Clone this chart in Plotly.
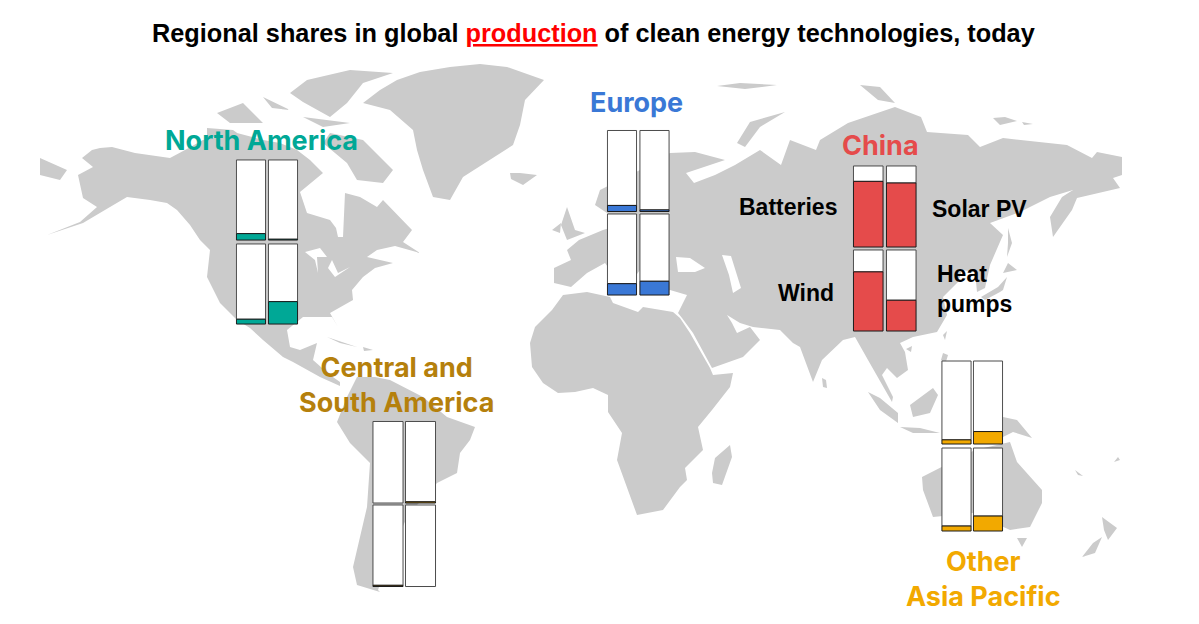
import plotly.graph_objects as go

TITLE = '<b>Regional shares in global <span style="color:#FF0000"><u>production</u></span> of clean energy technologies, today</b>'
TECHS = ["Batteries", "Solar PV", "Wind", "Heat pumps"]

north_america = [8, 1, 6, 28]
europe = [7.5, 2, 14, 17]
china = [81, 79, 73, 38]
central_south_america = [0, 1.5, 1.5, 0]
other_asia_pacific = [5, 15, 6, 18]

REGIONS = [
    ("North America", north_america, "#00A896", [235.5, 267.5], [160, 244], 31, 80),
    ("Europe", europe, "#3A78D6", [606.5, 639], [130.5, 214], 31, 81),
    ("China", china, "#E54B4B", [852.5, 885.5], [166, 250], 31.5, 81),
    ("Central and South America", central_south_america, "#B5800C", [372, 404.5], [421.5, 505], 32, 81.5),
    ("Other Asia Pacific", other_asia_pacific, "#F2A900", [941, 972.5], [361, 448], 31, 83),
]

LABELS = [
    ("North America", 261, 141, "#00A896", 27),
    ("Europe", 636, 103, "#3A78D6", 27),
    ("China", 880, 145, "#E54B4B", 27),
    ("Central and<br>South America", 396, 385, "#B5800C", 27),
    ("Other<br>Asia Pacific", 983, 579, "#F2A900", 27),
]
TECH_LABELS = [
    ("Batteries", 788, 207, "center"),
    ("Solar PV", 979, 209, "center"),
    ("Wind", 806, 293, "center"),
    ("Heat<br>pumps", 935, 289, "left"),
]

# land outlines
LAND = [
    # North and Central America
    [(82,158),(92,150),(100,148),(112,147),(135,153),(150,155),(170,158),(185,150),(203,140),(220,137),(237,133),(263,140),(280,143),
     (297,150),(310,160),(323,173),(300,192),(307,213),(330,220),(336,228),(338,237),(343,237),(344,215),(345,193),(360,197),(377,207),
     (383,200),(395,212),(412,230),(403,242),(420,253),(395,246),(377,250),(367,257),(393,263),(375,268),(363,277),(352,290),(353,300),
     (330,313),(338,327),(332,317),(303,317),(287,330),(290,347),(300,350),(317,343),(313,360),(330,375),(340,382),(340,386),(320,377),
     (293,362),(283,357),(263,340),(250,328),(237,320),(220,303),(207,277),(210,250),(200,240),(190,225),(177,210),(167,203),(150,200),
     (127,197),(110,207),(83,223),(47,235),(80,222),(97,207),(83,198),(78,175),(93,167)],
    # South America
    [(357,377),(375,377),(390,380),(410,390),(423,397),(447,417),(475,427),(470,440),(460,453),(457,473),(437,483),(408,515),(390,555),
     (378,590),(380,592),(357,585),(353,567),(360,537),(367,507),(370,463),(350,443),(337,422),(347,397)],
    # Greenland
    [(363,103),(380,90),(397,80),(420,72),(450,67),(480,64),(507,67),(544,80),(525,100),(520,125),(513,145),(490,160),(463,177),(450,200),
     (433,197),(423,170),(417,150),(413,130),(390,110)],
    # Africa
    [(563,295),(552,310),(535,327),(530,343),(532,367),(543,383),(558,393),(575,392),(593,388),(608,395),(608,412),(622,433),(617,460),
     (627,487),(637,515),(663,510),(680,487),(687,480),(685,468),(703,450),(698,427),(712,410),(730,387),(733,373),(713,375),(710,368),
     (690,333),(680,318),(673,312),(643,307),(638,312),(613,303),(610,297),(587,292)],
    [(730,445),(732,457),(722,485),(713,483),(712,473),(715,458)],
    # Eurasia
    [(682,318),(693,333),(712,368),(743,357),(760,340),(750,327),(737,333),(732,323),(727,315),(740,323),(753,327),(780,330),
     (793,343),(800,347),(813,382),(822,360),(843,340),(855,337),(868,360),(878,377),(892,402),(893,397),(882,375),(887,368),
     (897,378),(908,370),(905,352),(900,343),(913,337),(937,332),(947,315),(943,297),(958,282),(962,270),(975,272),(977,292),
     (985,288),(990,265),(1003,235),(990,223),(1020,212),(1050,197),(1073,190),(1062,197),(1050,217),(1053,237),(1072,210),
     (1077,198),(1120,188),(1113,178),(1122,175),(1122,157),(1097,152),(1092,158),(1067,145),(1003,138),(980,147),(968,135),
     (927,132),(921,117),(895,107),(848,123),(820,140),(816,150),(790,140),(781,165),(760,150),(735,165),(715,175),(694,183),
     (686,173),(725,160),(695,152),(670,153),(640,170),(600,190),(595,205),(610,215),(620,225),(603,230),(579,240),(567,250),
     (571,260),(554,268),(554,283),(571,287),(587,273),(605,263),(625,290),(640,270),(660,295),(670,290),(687,295),(683,303),(678,313)],
    # Australia, Tasmania, New Zealand, New Guinea
    [(922,477),(940,468),(975,450),(1010,442),(1017,462),(1042,490),(1042,503),(1030,527),(1010,530),(973,513),(933,517),(923,490)],
    [(1017,538),(1027,538),(1022,547)],
    [(1102,517),(1117,528),(1108,540),(1104,530)],
    [(1102,537),(1095,553),(1082,557),(1093,543)],
    [(1003,417),(1017,420),(1032,438),(1013,432),(1003,437),(985,425)],
    # South East Asia islands
    [(868,392),(880,398),(898,413),(898,423),(880,410)],
    [(900,427),(920,428),(940,433),(913,433)],
    [(910,405),(933,388),(938,395),(930,413),(913,417)],
    [(943,353),(948,355),(945,365),(941,360)],
    [(943,335),(947,331),(945,340)],
    [(906,349),(912,346),(911,352)],
    [(822,378),(826,380),(827,388),(823,387)],
    # Japan, Sakhalin
    [(1008,263),(1017,270),(1003,273)],
    [(1007,277),(1003,290),(1000,292),(985,300),(981,297),(998,287)],
    [(1008,228),(1012,243),(1007,257),(1008,243)],
    # Arctic and north Atlantic islands
    [(40,158),(67,170),(60,180),(40,175)],
    [(510,173),(520,173),(537,175),(523,185),(511,179)],
    [(290,93),(307,80),(350,70),(393,73),(363,83),(347,103),(330,117),(303,102)],
    [(330,133),(363,140),(393,170),(383,183),(357,180),(347,163),(323,143)],
    [(217,113),(243,103),(263,123),(230,123)],
    [(263,97),(290,110),(272,108)],
    [(303,117),(350,123),(323,127)],
    [(207,128),(233,130),(247,140),(207,137)],
    [(567,207),(575,230),(585,233),(567,240),(561,225)],
    [(552,230),(561,223),(560,233)],
    [(737,143),(750,122),(785,112),(760,127),(745,147)],
    [(860,85),(880,87),(895,103),(878,100)],
    [(717,86),(740,83),(777,85),(745,89)],
    [(993,118),(1005,117),(1017,121),(1000,125)],
    [(1022,122),(1033,124),(1024,125)],
    [(327,337),(357,347),(340,343)],
    [(363,347),(373,350),(364,351)],
    [(1075,470),(1083,476),(1078,475)],
    [(1114,462),(1118,457),(1120,460)],
]

# enclosed water
WATER = [
    [(676,257),(690,258),(705,268),(695,272),(678,272)],
    [(722,255),(731,256),(741,288),(733,293),(729,275)],
    [(305,252),(320,248),(327,257),(317,257),(318,273),(315,260)],
    [(332,260),(338,273),(350,267),(335,277),(328,268)],
]

W, H = 1199, 624


def outline(polys):
    xs, ys = [], []
    for p in polys:
        xs += [q[0] for q in p] + [p[0][0], None]
        ys += [q[1] for q in p] + [p[0][1], None]
    return xs, ys


fig = go.Figure()
for polys, col in ((LAND, "#CBCBCB"), (WATER, "#FFFFFF")):
    xs, ys = outline(polys)
    fig.add_trace(go.Scatter(x=xs, y=ys, mode="lines", fill="toself", fillcolor=col,
                             line=dict(width=0, color=col), hoverinfo="skip", showlegend=False,
                             xaxis="x", yaxis="y"))

layout = dict(
    width=W, height=H, margin=dict(l=0, r=0, t=0, b=0), paper_bgcolor="white", plot_bgcolor="rgba(0,0,0,0)",
    showlegend=False, barmode="stack", bargap=0.06,
    xaxis=dict(domain=[0, 1], range=[0, W], visible=False, fixedrange=True),
    yaxis=dict(domain=[0, 1], range=[H, 0], visible=False, fixedrange=True),
)

n = 2
for name, vals, col, lefts, tops, bw, bh in REGIONS:
    for i, (tech, v) in enumerate(zip(TECHS, vals)):
        left, top = lefts[i % 2], tops[i // 2]
        xa, ya = f"x{n}", f"y{n}"
        common = dict(x=[tech], xaxis=xa, yaxis=ya, showlegend=False, cliponaxis=False,
                      hovertemplate=f"{name} – {tech}: %{{y}}%<extra></extra>")
        fig.add_trace(go.Bar(y=[100 - v], base=[v], marker=dict(color="#FFFFFF", line=dict(color="#4A4A4A", width=1)), **common))
        if v > 0:
            fig.add_trace(go.Bar(y=[v], base=[0], marker=dict(color=col, line=dict(color="#1A1A1A", width=1)), **common))
        layout[f"xaxis{n}"] = dict(domain=[left / W, (left + bw) / W], anchor=ya, visible=False, fixedrange=True)
        layout[f"yaxis{n}"] = dict(domain=[1 - (top + bh + 1) / H, 1 - (top - 1) / H], anchor=xa, range=[-1.2, 101.2],
                                   visible=False, fixedrange=True)
        n += 1

ann = [dict(text=TITLE, x=593.5 / W, y=1 - 33 / H, xref="paper", yref="paper", showarrow=False,
            xanchor="center", yanchor="middle", font=dict(family="Liberation Sans", size=25.3, color="black"))]
for text, x, y, col, size in LABELS:
    ann.append(dict(text=f"<b>{text}</b>", x=x / W, y=1 - y / H, xref="paper", yref="paper", showarrow=False,
                    xanchor="center", yanchor="middle",
                    font=dict(family="Inter", size=size, color=col), align="center"))
for text, x, y, anchor in TECH_LABELS:
    ann.append(dict(text=f"<b>{text}</b>", x=x / W, y=1 - y / H, xref="paper", yref="paper", showarrow=False,
                    xanchor=anchor, yanchor="middle", align=anchor,
                    font=dict(family="Liberation Sans", size=23, color="black")))
layout["annotations"] = ann
fig.update_layout(**layout)
fig.update_layout(barmode="overlay")

fig.write_html("out.html", config=dict(displayModeBar=False),
               post_script="document.body.style.margin='0';")
